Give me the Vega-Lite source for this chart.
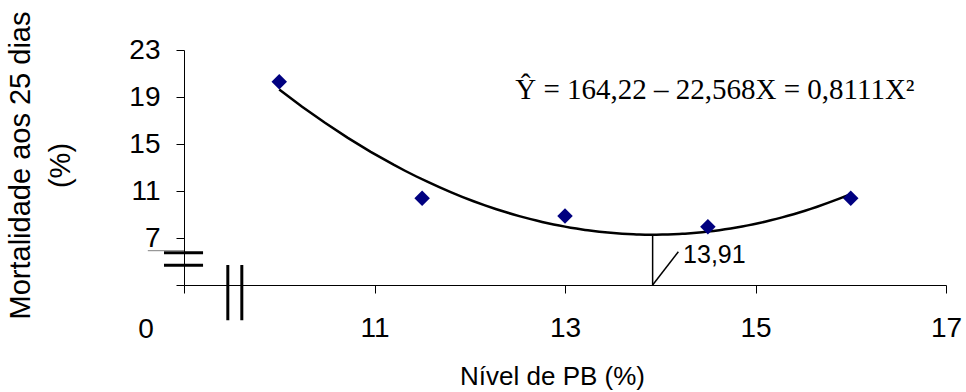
{
  "$schema": "https://vega.github.io/schema/vega-lite/v6.json",
  "width": 762,
  "height": 235,
  "autosize": {"type": "none"},
  "padding": {"left": 184, "top": 50, "right": 20, "bottom": 107},
  "background": "white",
  "config": {"view": {"stroke": null}},
  "datasets": {
    "points": [
      {"x": 10.0, "y": 20.3},
      {"x": 11.5, "y": 10.38},
      {"x": 13.0, "y": 8.87},
      {"x": 14.5, "y": 7.96},
      {"x": 16.0, "y": 10.38}
    ],
    "breaks": [
      {"x": 8.79, "x2": 9.2, "y": 5.75, "y2": 5.75},
      {"x": 8.79, "x2": 9.2, "y": 4.68, "y2": 4.68},
      {"x": 9.46, "x2": 9.46, "y": 4.7, "y2": 0.0},
      {"x": 9.607, "x2": 9.607, "y": 4.7, "y2": 0.0}
    ],
    "guides": [
      {"x": 13.92, "x2": 13.92, "y": 3, "y2": 7.24},
      {"x": 13.92, "x2": 14.19, "y": 3, "y2": 5.83}
    ],
    "edge": [
      {"x": 8.62, "x2": 9.0, "y": 5.92, "y2": 5.92}
    ],
    "sans": [
      {"x": 14.24, "y": 4.85, "label": "13,91"}
    ],
    "zero": [
      {"x": 8.52, "y": -1.55, "label": "0"}
    ],
    "eq": [
      {"x": 12.477, "y": 18.8, "label": "Ŷ = 164,22 – 22,568X = 0,8111X²"}
    ]
  },
  "encoding": {
    "x": {
      "field": "x",
      "type": "quantitative",
      "scale": {"domain": [9, 17], "nice": false, "zero": false},
      "axis": {
        "title": "Nível de PB (%)",
        "values": [9, 11, 13, 15, 17],
        "labelExpr": "datum.value == 9 ? '' : datum.label",
        "grid": false,
        "domainColor": "black",
        "tickColor": "black",
        "tickSize": 8,
        "labelFlush": false,
        "labelOverlap": false,
        "labelFont": "Liberation Sans",
        "labelFontSize": 28,
        "labelColor": "black",
        "labelPadding": 21,
        "titleFont": "Liberation Sans",
        "titleFontSize": 26,
        "titleFontWeight": "normal",
        "titleColor": "black",
        "titleX": 368,
        "titleY": 99,
        "titleBaseline": "alphabetic"
      }
    },
    "y": {
      "field": "y",
      "type": "quantitative",
      "scale": {"domain": [3, 23], "nice": false, "zero": false},
      "axis": {
        "title": ["Mortalidade aos 25 dias", "(%)"],
        "values": [3, 7, 11, 15, 19, 23],
        "labelExpr": "datum.value == 3 ? '' : datum.label",
        "grid": false,
        "domainColor": "black",
        "tickColor": "black",
        "tickSize": 8,
        "labelFlush": false,
        "labelOverlap": false,
        "labelFont": "Liberation Sans",
        "labelFontSize": 28,
        "labelColor": "black",
        "labelPadding": 16,
        "titleFont": "Liberation Sans",
        "titleFontSize": 29,
        "titleFontWeight": "normal",
        "titleColor": "black",
        "titleAngle": -90,
        "titleX": -164,
        "titleY": 115,
        "titleBaseline": "middle",
        "titleLineHeight": 40
      }
    }
  },
  "layer": [
    {
      "data": {"name": "points"},
      "transform": [{"regression": "y", "on": "x", "method": "poly", "order": 2}],
      "mark": {"type": "line", "color": "black", "strokeWidth": 2.5}
    },
    {
      "data": {"name": "points"},
      "mark": {"type": "point", "shape": "diamond", "filled": true, "color": "#000080", "opacity": 1, "size": 240}
    },
    {
      "data": {"name": "breaks"},
      "mark": {"type": "rule", "color": "black", "strokeWidth": 3},
      "encoding": {"x2": {"field": "x2"}, "y2": {"field": "y2"}}
    },
    {
      "data": {"name": "guides"},
      "mark": {"type": "rule", "color": "black", "strokeWidth": 1.5},
      "encoding": {"x2": {"field": "x2"}, "y2": {"field": "y2"}}
    },
    {
      "data": {"name": "edge"},
      "mark": {"type": "rule", "color": "#808080", "strokeWidth": 1},
      "encoding": {"x2": {"field": "x2"}, "y2": {"field": "y2"}}
    },
    {
      "data": {"name": "sans"},
      "mark": {"type": "text", "align": "left", "baseline": "alphabetic", "font": "Liberation Sans", "fontSize": 25, "color": "black"},
      "encoding": {"text": {"field": "label"}}
    },
    {
      "data": {"name": "zero"},
      "mark": {"type": "text", "align": "left", "baseline": "alphabetic", "font": "Liberation Sans", "fontSize": 28, "color": "black"},
      "encoding": {"text": {"field": "label"}}
    },
    {
      "data": {"name": "eq"},
      "mark": {"type": "text", "align": "left", "baseline": "alphabetic", "font": "Liberation Serif", "fontSize": 29, "color": "black"},
      "encoding": {"text": {"field": "label"}}
    }
  ]
}
